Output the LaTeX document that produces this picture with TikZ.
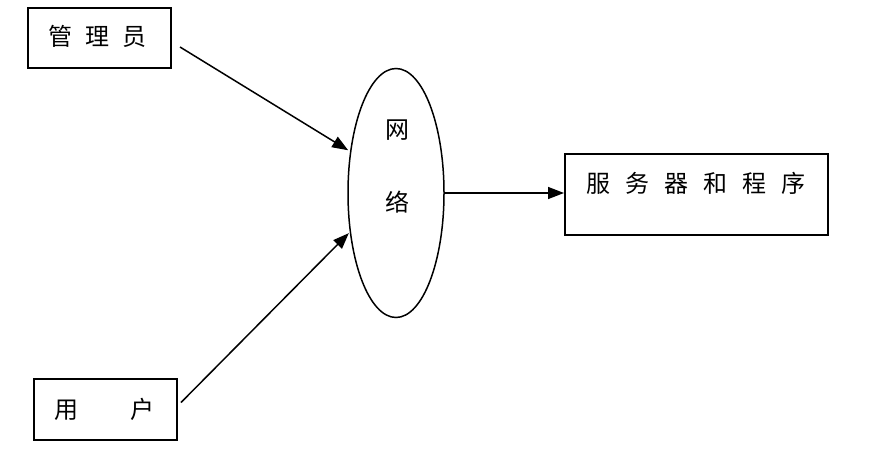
\documentclass[tikz,border=0pt]{standalone}
\usepackage{fontspec}
\newfontfamily\cjk{Noto Sans CJK SC}
\usetikzlibrary{arrows.meta,shapes.geometric}
\tikzset{
  boxnode/.style={draw, line width=2pt, inner sep=0pt, rectangle},
  netnode/.style={draw, line width=1.5pt, ellipse, inner sep=0pt, minimum width=96pt, minimum height=249pt},
  lbl/.style={inner sep=0pt, font=\cjk\fontsize{24}{28}\selectfont},
  arr/.style={line width=1.5pt, -{Triangle[length=16pt,width=12pt]}}
}
\begin{document}
\begin{tikzpicture}[x=1pt,y=-1pt]
\useasboundingbox (0,0) rectangle (883,465);
\node[boxnode, minimum width=143pt, minimum height=60pt] (adm) at (99.5,38) {};
\node[boxnode, minimum width=143pt, minimum height=61pt] (usr) at (105.5,409.5) {};
\node[boxnode, minimum width=263pt, minimum height=81pt] (srv) at (696.5,194.5) {};
\node[netnode] (net) at (396,193) {};
\node[lbl] (admt) at (97.5,36) {管\hspace{13pt}理\hspace{13pt}员};
\node[lbl] (usrt) at (104.5,409) {用\hspace{52pt}户};
\node[lbl] (srvt) at (696,183) {服\hspace{15pt}务\hspace{15pt}器\hspace{15pt}和\hspace{15pt}程\hspace{15pt}序};
\node[lbl] (net1) at (397,130) {网};
\node[lbl] (net2) at (397,202) {络};
\draw[arr] ([xshift=8pt,yshift=-9pt]adm.east) -- ([xshift=-2pt]net.137);
\draw[arr] ([xshift=3pt,yshift=7pt]usr.east) -- ([xshift=-1pt]net.221);
\draw[arr] (net.east) -- (net.east -| srv.west);
\end{tikzpicture}
\end{document}
